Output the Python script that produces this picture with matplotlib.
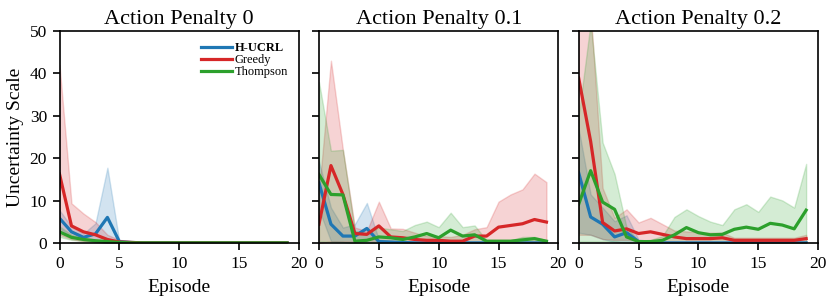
import numpy as np
import matplotlib.pyplot as plt

plt.rcParams['font.family'] = ['Liberation Serif', 'DejaVu Serif']
plt.rcParams['mathtext.fontset'] = 'stix'

episodes = np.arange(20)
titles = ["Action Penalty 0", "Action Penalty 0.1", "Action Penalty 0.2"]
names = ["H-UCRL", "Greedy", "Thompson"]
colors = ["#1f77b4", "#d62728", "#2ca02c"]

# penalty 0
hucrl_0 = [5.9, 2.7, 1.4, 2.2, 6.1, 0.4, 0.2, 0.1, 0.1, 0.1, 0.1, 0.1, 0.1, 0.1, 0.1, 0.1, 0.1, 0.1, 0.1, 0.1]
hucrl_0_hi = [7.8, 3.9, 2.3, 4.7, 17.8, 0.4, 0.3, 0.2, 0.2, 0.2, 0.2, 0.2, 0.2, 0.2, 0.2, 0.2, 0.2, 0.2, 0.2, 0.2]
hucrl_0_lo = [3.5, 1.5, 0.8, 0.5, 0.0, 0.1, 0.1, 0.0, 0.0, 0.0, 0.0, 0.0, 0.0, 0.0, 0.0, 0.0, 0.0, 0.0, 0.0, 0.0]
greedy_0 = [16.3, 4.1, 2.7, 2.0, 0.9, 0.3, 0.2, 0.1, 0.1, 0.1, 0.1, 0.1, 0.1, 0.1, 0.1, 0.1, 0.1, 0.1, 0.1, 0.1]
greedy_0_hi = [42.0, 9.4, 7.0, 5.0, 2.0, 0.8, 0.5, 0.3, 0.3, 0.3, 0.3, 0.3, 0.4, 0.3, 0.3, 0.3, 0.3, 0.3, 0.3, 0.3]
greedy_0_lo = [2.0, 1.0, 0.5, 0.3, 0.1, 0.0, 0.0, 0.0, 0.0, 0.0, 0.0, 0.0, 0.0, 0.0, 0.0, 0.0, 0.0, 0.0, 0.0, 0.0]
thompson_0 = [2.7, 1.4, 0.9, 0.6, 0.4, 0.2, 0.1, 0.1, 0.1, 0.1, 0.1, 0.1, 0.1, 0.1, 0.1, 0.1, 0.1, 0.1, 0.1, 0.1]
thompson_0_hi = [4.0, 2.0, 1.3, 0.9, 0.6, 0.3, 0.2, 0.1, 0.1, 0.1, 0.1, 0.1, 0.1, 0.1, 0.1, 0.1, 0.1, 0.1, 0.1, 0.1]
thompson_0_lo = [1.5, 0.8, 0.5, 0.3, 0.2, 0.1, 0.0, 0.0, 0.0, 0.0, 0.0, 0.0, 0.0, 0.0, 0.0, 0.0, 0.0, 0.0, 0.0, 0.0]

# penalty 0.1
hucrl_1 = [14.2, 4.5, 1.7, 1.7, 3.5, 0.4, 0.3, 0.2, 0.1, 0.1, 0.1, 0.1, 0.1, 0.1, 0.1, 0.1, 0.1, 0.1, 0.1, 0.1]
hucrl_1_hi = [19.3, 8.4, 3.7, 4.5, 9.5, 0.9, 0.6, 0.4, 0.3, 0.3, 0.2, 0.2, 0.2, 0.2, 0.2, 0.2, 0.2, 0.2, 0.2, 0.2]
hucrl_1_lo = [8.0, 0.5, 0.3, 0.2, 0.3, 0.0, 0.0, 0.0, 0.0, 0.0, 0.0, 0.0, 0.0, 0.0, 0.0, 0.0, 0.0, 0.0, 0.0, 0.0]
greedy_1 = [4.5, 18.3, 11.5, 2.3, 2.1, 4.1, 1.5, 1.3, 0.9, 0.7, 0.7, 0.5, 0.5, 1.7, 1.7, 3.8, 4.2, 4.6, 5.6, 5.0]
greedy_1_hi = [12.0, 43.0, 22.0, 3.7, 2.9, 9.8, 3.5, 3.4, 2.5, 1.7, 1.7, 1.5, 2.0, 3.3, 3.8, 9.8, 11.5, 12.7, 16.4, 14.4]
greedy_1_lo = [0.0, 0.5, 0.5, 0.5, 0.6, 0.5, 0.3, 0.2, 0.1, 0.1, 0.1, 0.1, 0.1, 0.2, 0.2, 0.3, 0.3, 0.3, 0.3, 0.3]
thompson_1 = [16.2, 11.5, 11.4, 0.5, 0.7, 1.5, 1.3, 0.9, 1.5, 2.3, 1.3, 3.1, 1.7, 2.0, 0.5, 0.5, 0.5, 0.8, 1.1, 0.5]
thompson_1_hi = [38.0, 21.8, 22.0, 2.9, 2.5, 3.7, 3.3, 2.9, 4.3, 5.1, 3.8, 7.2, 3.8, 4.2, 0.7, 0.7, 0.7, 1.5, 1.5, 0.7]
thompson_1_lo = [0.5, 0.3, 0.3, 0.0, 0.0, 0.0, 0.0, 0.0, 0.0, 0.0, 0.0, 0.0, 0.0, 0.0, 0.0, 0.0, 0.0, 0.0, 0.0, 0.0]

# penalty 0.2
hucrl_2 = [16.6, 6.2, 4.5, 1.5, 2.5, 0.4, 0.2, 0.1, 0.1, 0.1, 0.1, 0.1, 0.1, 0.1, 0.1, 0.1, 0.1, 0.1, 0.1, 0.1]
hucrl_2_hi = [27.0, 11.5, 8.4, 5.2, 6.6, 0.9, 0.5, 0.3, 0.2, 0.2, 0.2, 0.2, 0.2, 0.2, 0.2, 0.2, 0.2, 0.2, 0.2, 0.2]
hucrl_2_lo = [2.5, 2.0, 1.0, 0.3, 0.3, 0.0, 0.0, 0.0, 0.0, 0.0, 0.0, 0.0, 0.0, 0.0, 0.0, 0.0, 0.0, 0.0, 0.0, 0.0]
greedy_2 = [38.9, 24.0, 4.9, 2.9, 3.4, 2.3, 2.7, 2.1, 1.5, 1.1, 1.1, 1.1, 1.3, 0.7, 0.7, 0.7, 0.7, 0.7, 0.7, 1.1]
greedy_2_hi = [60.0, 55.0, 13.0, 6.0, 8.0, 4.9, 6.0, 4.5, 3.0, 2.8, 2.6, 2.5, 2.5, 1.3, 1.3, 1.3, 1.3, 1.3, 1.3, 2.0]
greedy_2_lo = [2.0, 2.0, 1.0, 0.8, 0.8, 0.6, 0.5, 0.4, 0.3, 0.2, 0.2, 0.2, 0.2, 0.1, 0.1, 0.1, 0.1, 0.1, 0.1, 0.2]
thompson_2 = [9.2, 17.1, 9.7, 8.0, 1.5, 0.4, 0.4, 0.7, 2.0, 3.7, 2.5, 2.0, 2.1, 3.3, 3.8, 3.3, 4.7, 4.3, 3.4, 7.8]
thompson_2_hi = [30.0, 52.0, 23.7, 16.3, 3.7, 0.6, 0.8, 1.7, 6.2, 8.0, 6.4, 5.1, 4.3, 8.0, 9.2, 7.4, 11.0, 10.1, 8.4, 18.7]
thompson_2_lo = [0.5, 0.5, 0.5, 0.5, 0.0, 0.0, 0.0, 0.0, 0.0, 0.0, 0.0, 0.0, 0.0, 0.0, 0.0, 0.0, 0.0, 0.0, 0.0, 0.0]

panels = [
    [(hucrl_0, hucrl_0_lo, hucrl_0_hi), (greedy_0, greedy_0_lo, greedy_0_hi), (thompson_0, thompson_0_lo, thompson_0_hi)],
    [(hucrl_1, hucrl_1_lo, hucrl_1_hi), (greedy_1, greedy_1_lo, greedy_1_hi), (thompson_1, thompson_1_lo, thompson_1_hi)],
    [(hucrl_2, hucrl_2_lo, hucrl_2_hi), (greedy_2, greedy_2_lo, greedy_2_hi), (thompson_2, thompson_2_lo, thompson_2_hi)],
]

fig = plt.figure(figsize=(8.3, 3.02), dpi=100)
lefts = [0.0717, 0.3843, 0.6972]
width = 0.2885
for i, data in enumerate(panels):
    ax = fig.add_axes([lefts[i], 0.1944, width, 0.703])
    for (mean, lo, hi), name, c in zip(data, names, colors):
        ax.fill_between(episodes, lo, hi, color=c, alpha=0.2)
        ax.plot(episodes, mean, color=c, lw=2.3, label=name)
    ax.set_xlim(0, 20)
    ax.set_ylim(0, 50)
    ax.set_xticks([0, 5, 10, 15, 20])
    ax.set_yticks([0, 10, 20, 30, 40, 50])
    ax.tick_params(direction='out', length=5, width=1.2, labelsize=12.5, pad=4)
    for s in ax.spines.values():
        s.set_linewidth(1.2)
    ax.set_title(titles[i], fontsize=16, pad=5)
    ax.set_xlabel("Episode", fontsize=14, labelpad=5)
    if i == 0:
        ax.set_ylabel("Uncertainty Scale", fontsize=14, labelpad=4)
        leg = ax.legend(loc='upper right', frameon=False, fontsize=9,
                        handlelength=2.5, handletextpad=0.2, labelspacing=0.0,
                        borderaxespad=0.5)
        leg.get_texts()[0].set_fontweight('bold')
    else:
        ax.set_yticklabels([])

fig.savefig("out.png", dpi=100)
